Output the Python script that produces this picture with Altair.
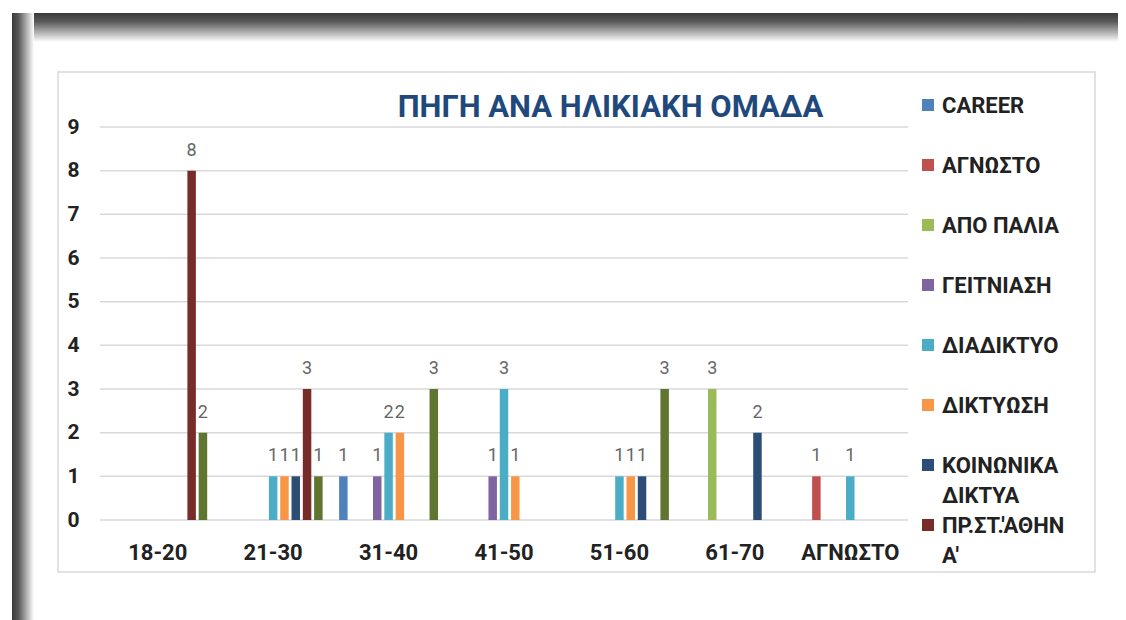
import altair as alt
import pandas as pd

# ---------------- data ----------------
categories = ["18-20", "21-30", "31-40", "41-50", "51-60", "61-70", "ΑΓΝΩΣΤΟ"]
series = ["CAREER", "ΑΓΝΩΣΤΟ", "ΑΠΟ ΠΑΛΙΑ", "ΓΕΙΤΝΙΑΣΗ", "ΔΙΑΔΙΚΤΥΟ",
          "ΔΙΚΤΥΩΣΗ", "ΚΟΙΝΩΝΙΚΑ ΔΙΚΤΥΑ", "ΠΡ.ΣΤ.'ΑΘΗΝΑ'", "ΑΛΛΟ"]
colors = ["#4F81BD", "#C0504D", "#9BBB59", "#8064A2", "#4BACC6",
          "#F79646", "#2C4D75", "#772C2A", "#5F7530"]

career      = [None, None, 1, None, None, None, None]
agnosto     = [None, None, None, None, None, None, 1]
apo_palia   = [None, None, None, None, None, 3, None]
geitniasi   = [None, None, 1, 1, None, None, None]
diadiktyo   = [None, 1, 2, 3, 1, None, 1]
diktyosi    = [None, 1, 2, 1, 1, None, None]
koinonika   = [None, 1, None, None, 1, 2, None]
pr_st       = [8, 3, None, None, None, None, None]
allo        = [2, 1, 3, None, 3, None, None]
series_values = [career, agnosto, apo_palia, geitniasi, diadiktyo,
                 diktyosi, koinonika, pr_st, allo]

y_ticks = [0, 1, 2, 3, 4, 5, 6, 7, 8, 9]
legend_series = series[:8]
legend_labels = ["CAREER", "ΑΓΝΩΣΤΟ", "ΑΠΟ ΠΑΛΙΑ", "ΓΕΙΤΝΙΑΣΗ", "ΔΙΑΔΙΚΤΥΟ",
                 "ΔΙΚΤΥΩΣΗ", "ΚΟΙΝΩΝΙΚΑ\nΔΙΚΤΥΑ", "ΠΡ.ΣΤ.'ΑΘΗΝ\nΑ'"]
title_text = "ΠΗΓΗ ΑΝΑ ΗΛΙΚΙΑΚΗ ΟΜΑΔΑ"

rows = []
for s, vals in zip(series, series_values):
    for c, v in zip(categories, vals):
        if v is not None:
            rows.append({"cat": c, "series": s, "value": v})
df = pd.DataFrame(rows)
grid_df = pd.DataFrame({"value": y_ticks})
leg_df = pd.DataFrame({"series": legend_series, "label": legend_labels})
one_df = pd.DataFrame({"k": [0]})

FONT = "Roboto"

# ---------------- scales / encodings ----------------
x_scale = alt.Scale(domain=categories, range=[42, 850], paddingInner=0, paddingOuter=0)
xoff_scale = alt.Scale(domain=series, paddingInner=0.25, paddingOuter=0.73)
y_scale = alt.Scale(domain=[0, 9], range=[448, 55], nice=False)
color_scale = alt.Scale(domain=series, range=colors)

x_axis = alt.Axis(title=None, labelAngle=0, offset=-52, domain=False, ticks=False,
                  grid=False, labelPadding=22, labelFontSize=22, labelFontWeight="bold",
                  labelFont=FONT, labelColor="#222222")
y_axis = alt.Axis(title=None, values=y_ticks, offset=-42, domain=False, ticks=False,
                  grid=False, labelPadding=21, labelFontSize=21, labelFontWeight="bold",
                  labelFont=FONT, labelColor="#222222")

x_enc = alt.X("cat:N", scale=x_scale, sort=categories, axis=x_axis)
xo_enc = alt.XOffset("series:N", scale=xoff_scale, sort=series)
y_enc = alt.Y("value:Q", scale=y_scale, axis=y_axis)
c_enc = alt.Color("series:N", scale=color_scale, legend=None)

grid = alt.Chart(grid_df).mark_rule(color="#d9d9d9", strokeWidth=1.5).encode(
    y=y_enc, x=alt.value(42), x2=alt.value(850))

bars = alt.Chart(df).mark_bar().encode(x=x_enc, xOffset=xo_enc, y=y_enc, color=c_enc)

labels = alt.Chart(df).mark_text(dy=-15, baseline="alphabetic", fontSize=18,
                                 font=FONT, color="#666666").encode(
    x=x_enc, xOffset=xo_enc, y=y_enc, text="value:Q")

main = alt.layer(grid, bars, labels)

leg_y = alt.Y("series:N", scale=alt.Scale(type="point", domain=legend_series,
                                          range=[33, 453], padding=0), axis=None)
leg_sq = alt.Chart(leg_df).mark_square(size=144, opacity=1).encode(
    x=alt.value(870), y=leg_y, color=c_enc)
leg_tx = alt.Chart(leg_df).mark_text(align="left", baseline="alphabetic", dy=8,
                                     lineBreak="\n", lineHeight=30, fontSize=22,
                                     fontWeight="bold", font=FONT, color="#222222").encode(
    x=alt.value(884), y=leg_y, text="label:N")
legend = alt.layer(leg_sq, leg_tx)

# screenshot frame shadow
top_band = alt.Chart(one_df).mark_rect(
    color=alt.Gradient(gradient="linear",
                       stops=[alt.GradientStop(offset=0, color="#3a3a3a"),
                              alt.GradientStop(offset=0.3, color="#5a5a5a"),
                              alt.GradientStop(offset=1, color="#ffffff")],
                       x1=0, x2=0, y1=0, y2=1)).encode(
    x=alt.value(-46), x2=alt.value(1060), y=alt.value(-59), y2=alt.value(-30))
left_band = alt.Chart(one_df).mark_rect(
    color=alt.Gradient(gradient="linear",
                       stops=[alt.GradientStop(offset=0, color="#3a3a3a"),
                              alt.GradientStop(offset=0.3, color="#5a5a5a"),
                              alt.GradientStop(offset=1, color="#ffffff")],
                       x1=0, x2=1, y1=0, y2=0)).encode(
    x=alt.value(-46), x2=alt.value(-24), y=alt.value(-59), y2=alt.value(548))

chart = alt.layer(top_band, left_band, main, legend).resolve_scale(
    y="independent"
).properties(
    width=1037, height=500,
    padding={"left": 50, "top": 64, "right": 23, "bottom": 48},
    autosize=alt.AutoSizeParams(type="none"),
    title=alt.TitleParams(title_text, font=FONT, fontSize=31, fontWeight="bold",
                          color="#1F497D", anchor="middle", dx=34, dy=63, offset=-48),
).configure_view(stroke="#d9d9d9", strokeWidth=1.5)

chart.save("out.html", embed_options={"renderer": "svg", "actions": False})
